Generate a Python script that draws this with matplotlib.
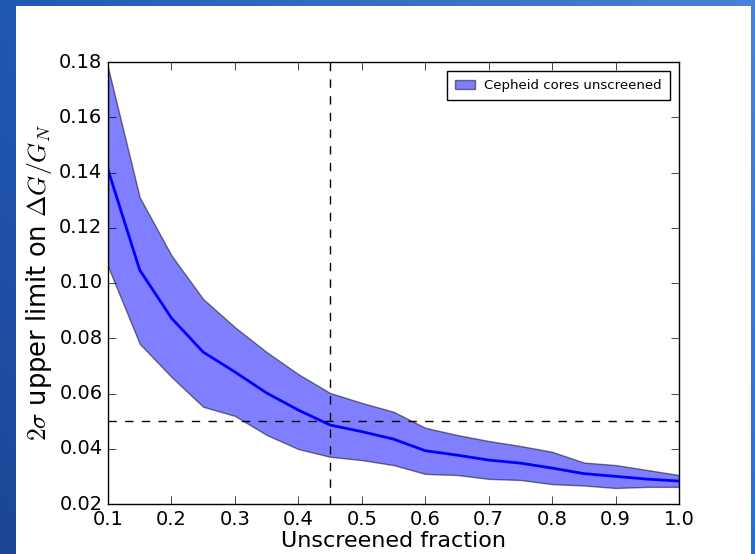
import numpy as np
import matplotlib
matplotlib.use('Agg')
import matplotlib.pyplot as plt
from matplotlib.patches import Rectangle

# unscreened fraction and the 2-sigma limits
frac = [0.10, 0.15, 0.20, 0.25, 0.30, 0.35, 0.40, 0.45, 0.50, 0.55,
        0.60, 0.65, 0.70, 0.75, 0.80, 0.85, 0.90, 0.95, 1.00]
mid = [0.141, 0.1047, 0.0873, 0.075, 0.0678, 0.0602, 0.054, 0.0486, 0.0462, 0.0435,
       0.0393, 0.0377, 0.0359, 0.0348, 0.033, 0.031, 0.030, 0.029, 0.0283]
upper = [0.178, 0.131, 0.110, 0.0942, 0.084, 0.075, 0.067, 0.0602, 0.0566, 0.0534,
         0.0476, 0.045, 0.0428, 0.041, 0.0389, 0.035, 0.0341, 0.0323, 0.0305]
lower = [0.106, 0.078, 0.066, 0.0552, 0.0519, 0.045, 0.0399, 0.0371, 0.0359, 0.0341,
         0.0309, 0.0305, 0.0291, 0.0287, 0.0272, 0.0267, 0.0258, 0.0262, 0.0262]

x_cut = 0.45
y_cut = 0.05

plt.style.use('classic')
plt.rcParams['font.family'] = 'DejaVu Sans'
plt.rcParams['mathtext.fontset'] = 'cm'

fig = plt.figure(figsize=(7.55, 5.54), dpi=100)
fig.patch.set_facecolor('white')

# slide background: blue gradient with a white panel
bg = fig.add_axes([0, 0, 1, 1], zorder=-10)
bg.axis('off')
tl = np.array([33, 88, 180]) / 255.
tr = np.array([75, 130, 215]) / 255.
bl = np.array([28, 70, 150]) / 255.
br = np.array([42, 110, 210]) / 255.
u = np.linspace(0, 1, 200)[None, :, None]
v = np.linspace(0, 1, 150)[:, None, None]
grad = (1 - v) * ((1 - u) * tl + u * tr) + v * ((1 - u) * bl + u * br)
bg.imshow(grad, aspect='auto', extent=[0, 1, 0, 1], origin='upper')
bg.add_patch(Rectangle((16 / 755., 0), (751 - 16) / 755., 1 - 6 / 554.,
                       facecolor='white', edgecolor='none', transform=bg.transAxes))
bg.set_xlim(0, 1)
bg.set_ylim(0, 1)

ax = fig.add_axes([108 / 755., 1 - 504 / 554., (679 - 108) / 755., (504 - 62) / 554.])
ax.set_facecolor('white')

ax.fill_between(frac, lower, upper, facecolor='blue', edgecolor='k', alpha=0.5, lw=1,
                label='Cepheid cores unscreened')
ax.plot(frac, mid, color='b', lw=2)
ax.axvline(x_cut, color='k', ls='--', lw=1)
ax.axhline(y_cut, color='k', ls='--', lw=1)

ax.set_xlim(0.1, 1.0)
ax.set_ylim(0.02, 0.18)
ax.set_xticks(np.arange(0.1, 1.01, 0.1))
ax.set_yticks(np.arange(0.02, 0.181, 0.02))
ax.tick_params(labelsize=14, length=6)
ax.set_xlabel('Unscreened fraction', fontsize=16, labelpad=2)
ax.set_ylabel(r'$2\sigma$ upper limit on $\Delta G/G_N$', fontsize=18.5, labelpad=4)

leg = ax.legend(loc='upper right', fontsize=9.5, frameon=True, handlelength=1.5,
                handletextpad=0.7, borderpad=0.6, borderaxespad=0.7)
leg.get_frame().set_edgecolor('k')

fig.savefig('out.png', dpi=100, facecolor=fig.get_facecolor())
